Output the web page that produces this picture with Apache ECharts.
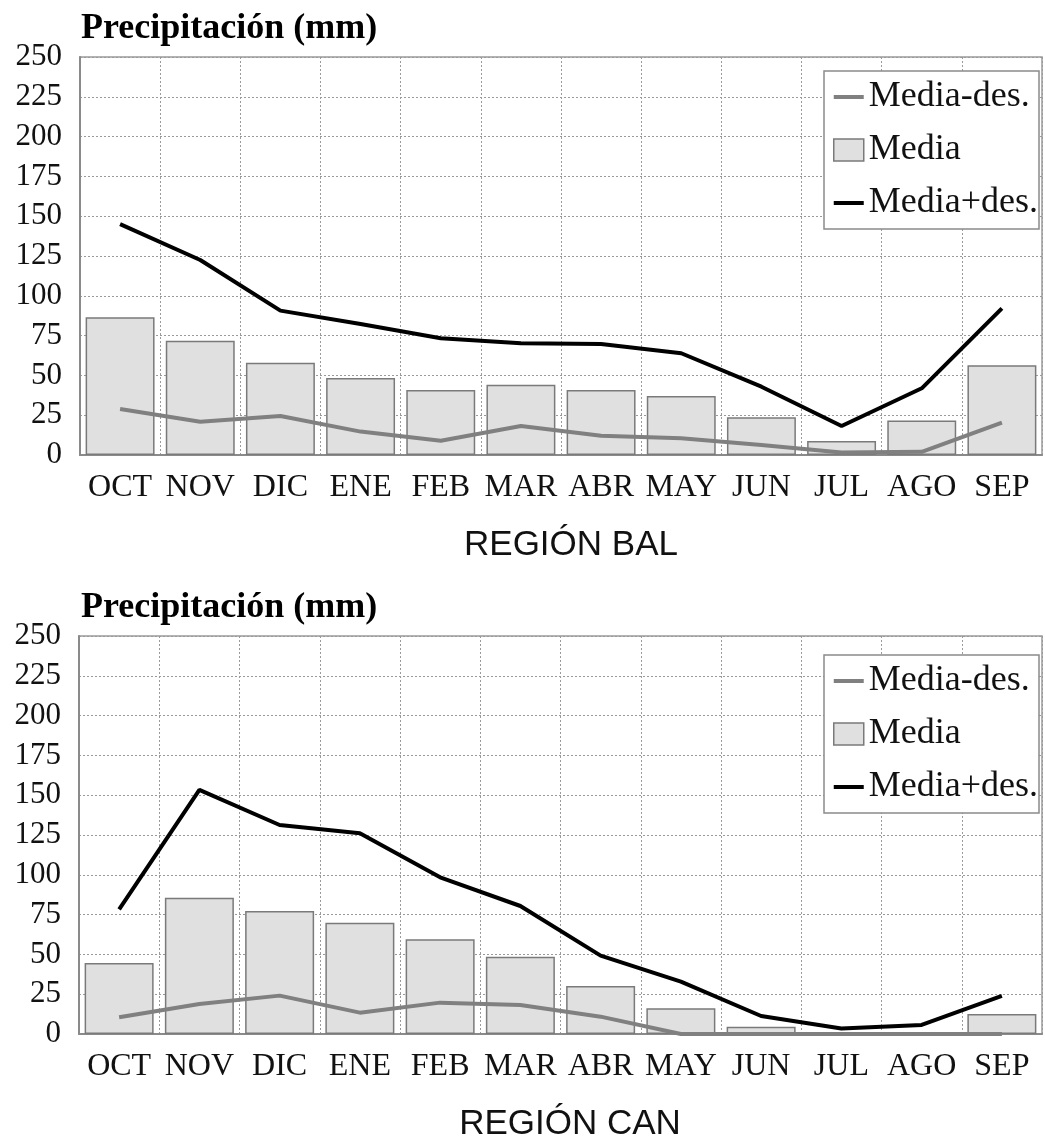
<!DOCTYPE html>
<html>
<head>
<meta charset="utf-8">
<script src="https://cdn.jsdelivr.net/npm/echarts@6/dist/echarts.min.js"></script>
<style>
  html, body { margin: 0; padding: 0; background: #fff; }
  #chart { width: 1045px; height: 1140px; }
</style>
</head>
<body>
<div id="chart"></div>
<script>
// Months of the hydrological year
const months = ['OCT', 'NOV', 'DIC', 'ENE', 'FEB', 'MAR', 'ABR', 'MAY', 'JUN', 'JUL', 'AGO', 'SEP'];
const yTicks = [0, 25, 50, 75, 100, 125, 150, 175, 200, 225, 250];

// Región BAL (mm)
const balMedia     = [86.5, 71.8, 58.0, 48.4, 40.8, 44.2, 40.8, 37.1, 23.7, 8.8, 21.6, 56.3];
const balMenosDes  = [28.9, 20.9, 24.5, 14.7, 9.0, 18.2, 12.1, 10.5, 6.3, 1.5, 2.0, 20.3];
const balMasDes    = [145.0, 122.5, 90.7, 82.3, 73.3, 70.2, 69.7, 63.9, 42.9, 18.2, 41.9, 92.1];

// Región CAN (mm)
const canMedia     = [44.6, 85.6, 77.3, 69.9, 59.5, 48.6, 30.2, 16.1, 4.6, 0.5, 1.0, 12.6];
const canMenosDes  = [10.5, 18.8, 24.1, 13.4, 19.7, 18.2, 10.9, 0.0, 0.0, 0.0, 0.0, 0.0];
const canMasDes    = [78.3, 153.3, 131.3, 126.1, 98.4, 80.4, 49.2, 32.9, 11.3, 3.4, 5.7, 23.9];

const panelTitles = ['Precipitación (mm)', 'Precipitación (mm)'];
const regionNames = ['REGIÓN BAL', 'REGIÓN CAN'];
const seriesNames = ['Media-des.', 'Media', 'Media+des.'];

const SERIF = "'Liberation Serif', 'Times New Roman', serif";
const SANS = "'Liberation Sans', Arial, sans-serif";

const grids = [
  { left: 80, top: 57, width: 962, height: 398 },
  { left: 79, top: 636, width: 963, height: 398 }
];

function xAxisFor(i) {
  return {
    type: 'category', gridIndex: i, data: months, boundaryGap: true,
    axisLine: { show: true, lineStyle: { color: '#8a8a8a', width: 2 } },
    axisTick: { show: false },
    axisLabel: { color: '#111', fontFamily: SERIF, fontSize: 32, margin: 17, interval: 0 },
    splitLine: { show: true, interval: 0, lineStyle: { color: '#9a9a9a', type: [2, 2], width: 1 } }
  };
}
function yAxisFor(i) {
  return {
    type: 'value', gridIndex: i, min: 0, max: 250, interval: 25,
    axisLine: { show: true, lineStyle: { color: '#8a8a8a', width: 2 } },
    axisTick: { show: false },
    axisLabel: { color: '#111', fontFamily: SERIF, fontSize: 31, margin: 18,
                 formatter: v => (yTicks.indexOf(v) >= 0 ? String(v) : '') },
    splitLine: { show: true, lineStyle: { color: '#9a9a9a', type: [2, 2], width: 1 } }
  };
}
function panelSeries(i, media, menos, mas) {
  return [
    { name: seriesNames[1], type: 'bar', xAxisIndex: i, yAxisIndex: i, data: media,
      barCategoryGap: '14%', z: 2,
      itemStyle: { color: '#e0e0e0', borderColor: '#7a7a7a', borderWidth: 1.5 } },
    { name: seriesNames[0], type: 'line', xAxisIndex: i, yAxisIndex: i, data: menos,
      symbol: 'none', z: 3, lineStyle: { color: '#808080', width: 4 }, itemStyle: { color: '#808080' } },
    { name: seriesNames[2], type: 'line', xAxisIndex: i, yAxisIndex: i, data: mas,
      symbol: 'none', z: 4, lineStyle: { color: '#000', width: 4 }, itemStyle: { color: '#000' } }
  ];
}
// Flat bar used as the legend key of the two line series
const LINE_KEY = 'path://M0,0H30V4H0Z';
function legendAt(top) {
  return {
    orient: 'vertical', left: 824, top: top,
    data: [
      { name: seriesNames[0], icon: LINE_KEY, itemStyle: { color: '#808080', borderWidth: 0 } },
      { name: seriesNames[1], icon: 'rect', itemStyle: { color: '#e0e0e0', borderColor: '#7a7a7a', borderWidth: 1.5 } },
      { name: seriesNames[2], icon: LINE_KEY, itemStyle: { color: '#000', borderWidth: 0 } }
    ],
    backgroundColor: '#fff', borderColor: '#8a8a8a', borderWidth: 1.5, borderRadius: 0,
    padding: [8, 1, 8, 9], itemGap: 17, itemWidth: 30, itemHeight: 22,
    selectedMode: false,
    textStyle: { color: '#111', fontFamily: SERIF, fontSize: 36 }
  };
}

const chart = echarts.init(document.getElementById('chart'), null, { renderer: 'canvas' });
chart.setOption({
  backgroundColor: '#fff',
  animation: false,
  title: [
    { text: panelTitles[0], left: 81, top: 11, padding: 0,
      textStyle: { fontFamily: SERIF, fontWeight: 'bold', fontSize: 36, color: '#000' } },
    { text: panelTitles[1], left: 81, top: 590, padding: 0,
      textStyle: { fontFamily: SERIF, fontWeight: 'bold', fontSize: 36, color: '#000' } }
  ],
  grid: grids.map(g => Object.assign({ show: true, borderColor: '#9a9a9a', borderWidth: 1.5, backgroundColor: 'transparent' }, g)),
  xAxis: [xAxisFor(0), xAxisFor(1)],
  yAxis: [yAxisFor(0), yAxisFor(1)],
  legend: [legendAt(71), legendAt(655)],
  series: [].concat(
    panelSeries(0, balMedia, balMenosDes, balMasDes),
    panelSeries(1, canMedia, canMenosDes, canMasDes)
  ),
  graphic: [
    { type: 'text', x: 571, y: 545,
      style: { text: regionNames[0], fontFamily: SANS, fontSize: 35, fill: '#111', align: 'center', verticalAlign: 'middle' } },
    { type: 'text', x: 570, y: 1124,
      style: { text: regionNames[1], fontFamily: SANS, fontSize: 35, fill: '#111', align: 'center', verticalAlign: 'middle' } }
  ]
});
</script>
</body>
</html>
